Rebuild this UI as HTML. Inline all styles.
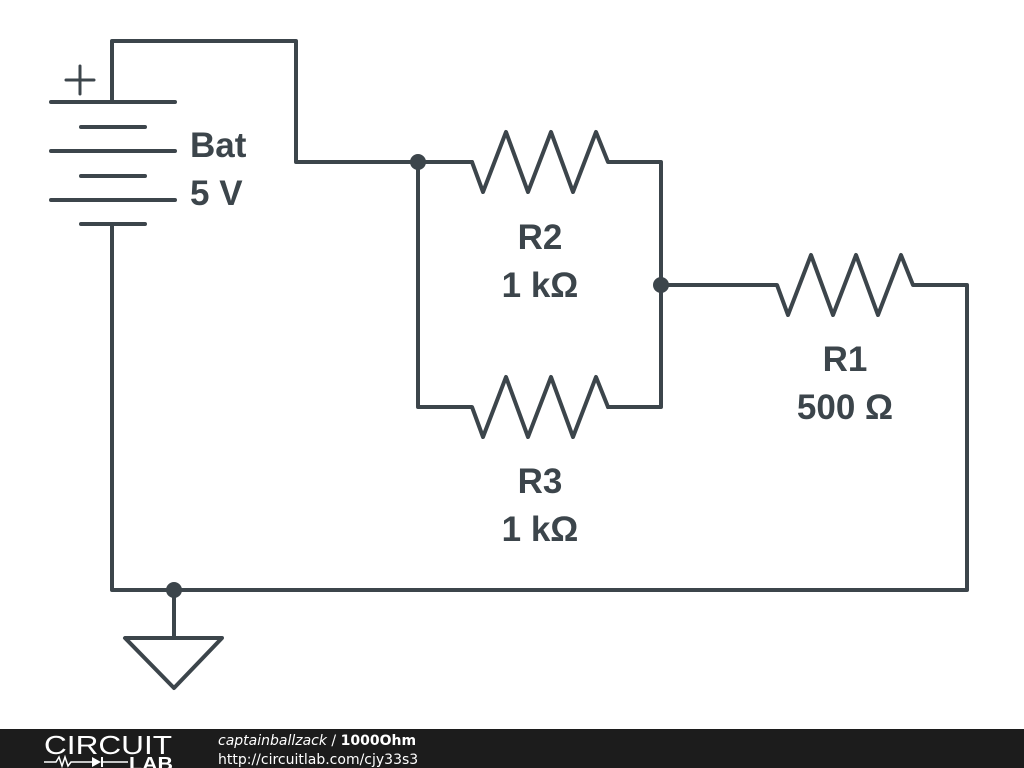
<!DOCTYPE html>
<html><head><style>
html,body{margin:0;padding:0;background:#fff;width:1024px;height:768px;overflow:hidden}
svg{display:block}
</style></head><body>
<svg width="1024" height="768" viewBox="0 0 1024 768" xmlns="http://www.w3.org/2000/svg">
<g stroke="#3c454b" stroke-width="4" fill="none" stroke-linecap="round" stroke-linejoin="round">
<polyline points="112,102 112,41 296,41 296,162 472,162"/>
<polyline points="472,162 483,192 506,132 528,192 551,132 573,192 596,132 608,162 661,162 661,407 608,407"/>
<polyline points="418,162 418,407 472,407 483,437 506,377 528,437 551,377 573,437 596,377 608,407"/>
<polyline points="661,285 777,285 788,315 811,255 833,315 856,255 878,315 901,255 913,285 967,285 967,590 112,590 112,224"/>
<line x1="51" y1="102" x2="175" y2="102"/>
<line x1="81" y1="127" x2="145" y2="127"/>
<line x1="51" y1="151" x2="175" y2="151"/>
<line x1="81" y1="176" x2="145" y2="176"/>
<line x1="51" y1="200" x2="175" y2="200"/>
<line x1="81" y1="224" x2="145" y2="224"/>
<line x1="66" y1="80" x2="94" y2="80" stroke-width="3"/>
<line x1="80" y1="66" x2="80" y2="94" stroke-width="3"/>
<polyline points="174,590 174,638"/>
<polygon points="125,638 222,638 174,688"/>
</g>
<g fill="#3c454b">
<circle cx="418" cy="162" r="8"/>
<circle cx="661" cy="285" r="8"/>
<circle cx="174" cy="590" r="8"/>
</g>
<g font-family="Liberation Sans, sans-serif" font-weight="bold" font-size="35" fill="#3c454b">
<text x="190" y="157">Bat</text>
<text x="190" y="205">5 V</text>
<text x="540" y="249" text-anchor="middle">R2</text>
<text x="540" y="297" text-anchor="middle">1 kΩ</text>
<text x="540" y="493" text-anchor="middle">R3</text>
<text x="540" y="541" text-anchor="middle">1 kΩ</text>
<text x="845" y="371" text-anchor="middle">R1</text>
<text x="845" y="419" text-anchor="middle">500 Ω</text>
</g>
<rect x="0" y="729" width="1024" height="39" fill="#1c1c1c"/>
<text x="44" y="754" font-family="Liberation Sans, sans-serif" font-size="26" fill="#fff" textLength="128" lengthAdjust="spacingAndGlyphs">CIRCUIT</text>
<polyline points="44,762 56,762 59,757 62,766 65,757 68,766 71,762 92,762" stroke="#fff" stroke-width="1.5" fill="none"/>
<polygon points="92,757 92,767 101,762" fill="#fff"/>
<line x1="102" y1="757" x2="102" y2="767" stroke="#fff" stroke-width="2"/>
<line x1="102" y1="762" x2="128" y2="762" stroke="#fff" stroke-width="1.5"/>
<text x="129" y="770" font-family="Liberation Sans, sans-serif" font-size="18" font-weight="bold" fill="#fff" textLength="44" lengthAdjust="spacingAndGlyphs">LAB</text>
<text x="218" y="745" font-family="DejaVu Sans, sans-serif" font-size="14" fill="#fff"><tspan font-style="italic">captainballzack</tspan> / <tspan font-weight="bold">1000Ohm</tspan></text>
<text x="218" y="764" font-family="DejaVu Sans, sans-serif" font-size="14" fill="#fff">http://circuitlab.com/cjy33s3</text>
</svg>
</body></html>
